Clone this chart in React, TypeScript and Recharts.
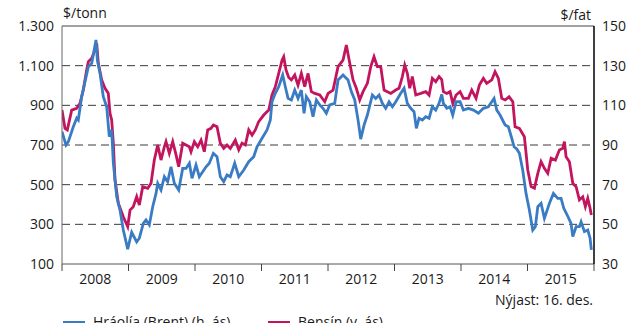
import { LineChart, Line, XAxis, YAxis, ReferenceLine } from "recharts";

// Gasoline, $/tonn (left axis): [decimal year, price]
const petrol: [number, number][] = [
  [2008.0, 876], [2008.045, 784], [2008.08, 776], [2008.146, 876], [2008.221, 885], [2008.271, 910],
  [2008.32, 977], [2008.371, 1078], [2008.396, 1120], [2008.447, 1137], [2008.496, 1179], [2008.522, 1213],
  [2008.546, 1112], [2008.597, 1028], [2008.647, 986], [2008.696, 961], [2008.722, 860], [2008.747, 826],
  [2008.772, 709], [2008.797, 524], [2008.847, 406], [2008.922, 338], [2008.988, 288], [2009.023, 372],
  [2009.072, 389], [2009.123, 440], [2009.163, 397], [2009.214, 490], [2009.289, 482], [2009.339, 507],
  [2009.388, 624], [2009.439, 700], [2009.489, 624], [2009.539, 691], [2009.564, 717], [2009.614, 658],
  [2009.665, 717], [2009.715, 650], [2009.755, 590], [2009.815, 709], [2009.865, 700], [2009.915, 691],
  [2009.94, 666], [2009.99, 717], [2010.041, 691], [2010.091, 725], [2010.14, 666], [2010.191, 776],
  [2010.241, 784], [2010.276, 801], [2010.331, 792], [2010.381, 709], [2010.432, 683], [2010.482, 700],
  [2010.531, 683], [2010.606, 725], [2010.658, 675], [2010.707, 709], [2010.757, 700], [2010.808, 776],
  [2010.858, 750], [2010.907, 776], [2010.958, 818], [2011.034, 851], [2011.109, 876], [2011.158, 952],
  [2011.208, 994], [2011.259, 1061], [2011.309, 1128], [2011.334, 1145], [2011.369, 1078], [2011.41, 1040],
  [2011.449, 1028], [2011.5, 1053], [2011.549, 1002], [2011.599, 1061], [2011.65, 994], [2011.7, 1061],
  [2011.75, 969], [2011.801, 960], [2011.876, 952], [2011.951, 918], [2012.001, 960], [2012.076, 977],
  [2012.151, 1095], [2012.226, 1128], [2012.276, 1204], [2012.327, 1112], [2012.377, 1028], [2012.426, 986],
  [2012.477, 927], [2012.527, 969], [2012.592, 1011], [2012.643, 1095], [2012.692, 1145], [2012.742, 1095],
  [2012.793, 1095], [2012.843, 977], [2012.893, 969], [2012.944, 960], [2013.019, 977], [2013.068, 986],
  [2013.118, 1045], [2013.154, 1103], [2013.193, 1061], [2013.229, 986], [2013.268, 1045], [2013.32, 952],
  [2013.395, 960], [2013.47, 969], [2013.52, 952], [2013.569, 1036], [2013.62, 1019], [2013.67, 1045],
  [2013.71, 1030], [2013.735, 969], [2013.786, 960], [2013.836, 969], [2013.876, 910], [2013.926, 952],
  [2013.986, 969], [2014.036, 935], [2014.111, 935], [2014.162, 977], [2014.226, 935], [2014.276, 1002],
  [2014.336, 1036], [2014.387, 1011], [2014.463, 1028], [2014.512, 1070], [2014.562, 1036], [2014.613, 935],
  [2014.663, 927], [2014.723, 943], [2014.779, 918], [2014.813, 792], [2014.878, 784], [2014.953, 742],
  [2015.004, 574], [2015.054, 490], [2015.104, 482], [2015.155, 557], [2015.204, 616], [2015.254, 582],
  [2015.305, 557], [2015.355, 633], [2015.419, 624], [2015.479, 675], [2015.531, 683], [2015.555, 717],
  [2015.58, 641], [2015.63, 616], [2015.681, 507], [2015.731, 490], [2015.78, 423], [2015.831, 439],
  [2015.87, 389], [2015.906, 431], [2015.941, 381], [2015.96, 347],
];

// Brent crude, $/fat (right axis): [decimal year, price]
const brent: [number, number][] = [
  [2008.0, 96.7], [2008.06, 90], [2008.095, 91.7], [2008.17, 99.2], [2008.221, 103.5], [2008.245, 102.6],
  [2008.296, 114.4], [2008.346, 121.9], [2008.396, 129.5], [2008.447, 131.2], [2008.511, 143], [2008.531, 132.9],
  [2008.572, 126.1], [2008.621, 114.4], [2008.672, 109.3], [2008.711, 94.2], [2008.747, 97.6], [2008.772, 80.8],
  [2008.823, 63.9], [2008.872, 57.2], [2008.922, 47.1], [2008.988, 37.5], [2009.048, 46], [2009.123, 41.2],
  [2009.163, 43], [2009.223, 50.5], [2009.263, 52.2], [2009.313, 49.7], [2009.364, 58.9], [2009.414, 65.6],
  [2009.439, 70.7], [2009.489, 67.3], [2009.539, 74], [2009.589, 71.5], [2009.639, 79], [2009.689, 70.7],
  [2009.755, 67.3], [2009.815, 78.2], [2009.865, 78.2], [2009.915, 80.8], [2009.955, 73.2], [2010.015, 79.9],
  [2010.065, 74], [2010.116, 76.5], [2010.166, 79], [2010.215, 80.8], [2010.276, 85.8], [2010.331, 84.1],
  [2010.381, 74], [2010.432, 71.5], [2010.482, 74.9], [2010.531, 74], [2010.597, 80.8], [2010.658, 74],
  [2010.733, 77.4], [2010.808, 81.6], [2010.883, 84.1], [2010.933, 89.1], [2011.008, 93.4], [2011.083, 97.6],
  [2011.133, 102.6], [2011.158, 111.8], [2011.208, 116.1], [2011.259, 119.4], [2011.319, 125.3], [2011.358, 119.4],
  [2011.399, 113.5], [2011.449, 112.7], [2011.5, 117.7], [2011.549, 113.5], [2011.599, 117.7], [2011.64, 106],
  [2011.674, 114.4], [2011.725, 111.8], [2011.775, 104.3], [2011.825, 112.7], [2011.876, 110.2], [2011.925, 108.5],
  [2011.975, 106], [2012.026, 110.2], [2012.101, 111], [2012.151, 122.8], [2012.226, 125.3], [2012.301, 122.8],
  [2012.351, 116.9], [2012.402, 112.7], [2012.452, 102.6], [2012.492, 93], [2012.542, 100], [2012.592, 105.1],
  [2012.667, 115.2], [2012.718, 113.5], [2012.768, 115.2], [2012.817, 111], [2012.868, 108.5], [2012.918, 111.8],
  [2012.968, 109.3], [2013.019, 111.8], [2013.094, 116.1], [2013.144, 118.6], [2013.193, 111], [2013.244, 108.5],
  [2013.294, 106.8], [2013.329, 98.4], [2013.369, 103.5], [2013.419, 102.6], [2013.47, 104.3], [2013.52, 103.5],
  [2013.569, 109.3], [2013.62, 107.6], [2013.67, 111], [2013.711, 115.5], [2013.735, 111], [2013.786, 108.5],
  [2013.836, 109.3], [2013.876, 105.1], [2013.926, 111.8], [2013.986, 111.8], [2014.036, 107.6], [2014.111, 108.5],
  [2014.187, 107.6], [2014.262, 106], [2014.336, 108.5], [2014.411, 109.3], [2014.463, 111.8], [2014.497, 113.5],
  [2014.538, 107.6], [2014.587, 105.1], [2014.663, 100.1], [2014.712, 99.2], [2014.763, 93.4], [2014.798, 89.1],
  [2014.838, 88], [2014.878, 85.8], [2014.928, 77.4], [2014.978, 65.6], [2015.028, 57.2], [2015.079, 47.1],
  [2015.118, 48.8], [2015.155, 58.9], [2015.204, 60.6], [2015.254, 53], [2015.33, 60.6], [2015.39, 65.6],
  [2015.455, 63.1], [2015.505, 63.1], [2015.546, 58.1], [2015.597, 54.7], [2015.655, 50.5], [2015.681, 43.8],
  [2015.731, 48.8], [2015.78, 48.8], [2015.806, 51.3], [2015.856, 46.3], [2015.906, 47.1], [2015.941, 43],
  [2015.96, 37.1],
];

const years = [2008, 2009, 2010, 2011, 2012, 2013, 2014, 2015, 2016];
const tonnTicks = [100, 300, 500, 700, 900, 1100, 1300];
const fatTicks = [30, 50, 70, 90, 110, 130, 150];
const gridLines = [300, 500, 700, 900, 1100];

const BLUE = "#3a7cc4";
const PINK = "#c2155e";
const FONT = "'Open Sans', sans-serif";
const TEXT = "#1a1a1a";

const W = 641;
const H = 323;
const LEFT_W = 62;
const RIGHT_W = 47;
const HALF_YEAR = (W - LEFT_W - RIGHT_W) / (years.length - 1) / 2;

const petrolData = petrol.map(([t, v]) => ({ t, v }));
const brentData = brent.map(([t, v]) => ({ t, v }));

const thousands = (v: number) => String(v).replace(/\B(?=(\d{3})+(?!\d))/g, ".");

// year labels sit between the boundary ticks
function YearTick({ x, y, payload }: any) {
  if (payload.value === years[years.length - 1]) return <g />;
  return (
    <text x={x + HALF_YEAR} y={y + 11} textAnchor="middle" fontSize={14} fontFamily={FONT} fill={TEXT}>
      {payload.value}
    </text>
  );
}

const tickStyle = { fontSize: 14, fontFamily: FONT, fill: TEXT };

export default function App() {
  return (
    <div style={{ position: "absolute", left: 0, top: 0, width: W, height: H, overflow: "hidden", background: "#fff", fontFamily: FONT, color: TEXT }}>
      <LineChart width={W} height={H} margin={{ top: 26, right: 0, bottom: 0, left: 0 }}>
        <XAxis
          dataKey="t" type="number" domain={[2008, 2016]} ticks={years} allowDataOverflow
          height={59} tickSize={7} tick={<YearTick />}
          axisLine={{ stroke: "#555" }} tickLine={{ stroke: "#444" }}
        />
        <YAxis
          yAxisId="tonn" orientation="left" domain={[100, 1300]} ticks={tonnTicks} width={LEFT_W}
          tickFormatter={thousands} tick={tickStyle} tickLine={false} axisLine={{ stroke: "#666" }}
        />
        <YAxis
          yAxisId="fat" orientation="right" domain={[30, 150]} ticks={fatTicks} width={RIGHT_W}
          tick={{ ...tickStyle, textAnchor: "start" }} tickLine={false} axisLine={{ stroke: "#000", strokeWidth: 1.5 }}
        />
        {gridLines.map((g) => (
          <ReferenceLine key={g} yAxisId="tonn" y={g} stroke="#3a3a3a" strokeDasharray="8 5" />
        ))}
        <ReferenceLine yAxisId="tonn" y={1300} stroke="#444" />
        <Line yAxisId="tonn" data={petrolData} dataKey="v" stroke={PINK} strokeWidth={2.8} dot={false}
              type="linear" isAnimationActive={false} />
        <Line yAxisId="fat" data={brentData} dataKey="v" stroke={BLUE} strokeWidth={2.8} dot={false}
              type="linear" isAnimationActive={false} />
      </LineChart>

      <div style={{ position: "absolute", left: 63, top: 6, fontSize: 14, lineHeight: "14px" }}>$/tonn</div>
      <div style={{ position: "absolute", right: 50, top: 8, fontSize: 14, lineHeight: "14px" }}>$/fat</div>
      <div style={{ position: "absolute", right: 48, top: 293, fontSize: 14, lineHeight: "14px" }}>Nýjast: 16. des.</div>

      {/* legend runs past the bottom edge of the frame */}
      <div style={{ position: "absolute", left: 63, top: 321, width: 22, height: 3, background: BLUE }} />
      <div style={{ position: "absolute", left: 93, top: 315, fontSize: 14, lineHeight: "14px", whiteSpace: "nowrap" }}>Hráolía (Brent) (h. ás)</div>
      <div style={{ position: "absolute", left: 268, top: 321, width: 22, height: 3, background: PINK }} />
      <div style={{ position: "absolute", left: 298, top: 315, fontSize: 14, lineHeight: "14px", whiteSpace: "nowrap" }}>Bensín (v. ás)</div>
    </div>
  );
}
